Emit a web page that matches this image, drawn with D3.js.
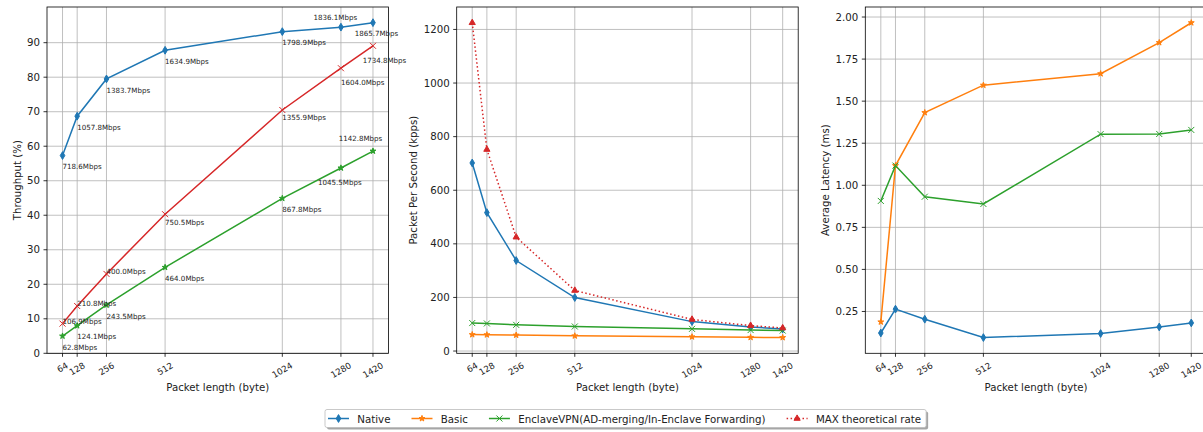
<!DOCTYPE html>
<html>
<head>
<meta charset="utf-8">
<script src="https://cdn.jsdelivr.net/npm/d3@7"></script>
<style>
  body { margin: 0; background: white; }
  svg { display: block; font-family: 'DejaVu Sans', sans-serif; }
</style>
</head>
<body>
<div id="graf"></div>
<script>
// Throughput, paquetes por segundo y latencia vs longitud de paquete
//

// Datos
longitudes = [64, 128, 256, 512, 1024, 1280, 1420]

// Panel 1: throughput (%)
thrNative  = [57.3, 68.7, 79.5, 87.8, 93.2, 94.5, 95.8]
thrEnclave = [8.6, 13.7, 23.0, 40.3, 70.5, 82.6, 89.1]
thrBasic   = [5.0, 8.0, 14.0, 24.9, 44.9, 53.7, 58.6]
etqNative  = ['718.6Mbps', '1057.8Mbps', '1383.7Mbps', '1634.9Mbps', '1798.9Mbps', '1836.1Mbps', '1865.7Mbps']
etqEnclave = ['106.9Mbps', '210.8Mbps', '400.0Mbps', '750.5Mbps', '1355.9Mbps', '1604.0Mbps', '1734.8Mbps']
etqBasic   = ['62.8Mbps', '124.1Mbps', '243.5Mbps', '464.0Mbps', '867.8Mbps', '1045.5Mbps', '1142.8Mbps']
yTicks1    = [0, 10, 20, 30, 40, 50, 60, 70, 80, 90]

// Panel 2: paquetes por segundo (kpps)
ppsNative  = [701.8, 516.5, 337.8, 199.6, 109.8, 89.6, 82.1]
ppsBasic   = [61.3, 60.6, 59.4, 56.6, 53.0, 51.0, 50.3]
ppsEnclave = [104.4, 102.9, 97.7, 91.6, 82.8, 78.3, 76.4]
ppsMax     = [1225, 752, 425, 226, 118, 95, 86]
yTicks2    = [0, 200, 400, 600, 800, 1000, 1200]

// Panel 3: latencia media (ms)
latNative  = [0.122, 0.264, 0.204, 0.095, 0.119, 0.158, 0.182]
latBasic   = [0.188, 1.117, 1.432, 1.595, 1.663, 1.848, 1.966]
latEnclave = [0.907, 1.117, 0.932, 0.889, 1.304, 1.305, 1.329]
yTicks3    = [0.25, 0.50, 0.75, 1.00, 1.25, 1.50, 1.75, 2.00]

nombres = ['Native', 'Basic', 'EnclaveVPN(AD-merging/In-Enclave Forwarding)', 'MAX theoretical rate']

// desplazamiento de las etiquetas (bytes, unidades del eje y)
despNative  = [[0, -4], [0, -4], [0, -4], [0, -4], [0, -4], [-120, 2], [-80, -4]]
despEnclave = [[0, 0], [0, 0], [0, 0], [0, -3], [0, -3], [0, -5], [-45, -5]]
despBasic   = [[0, -4], [0, -4], [0, -4], [0, -4], [0, -4], [-100, -5], [-150, 3]]

azul    = '#1f77b4'
naranja = '#ff7f0e'
verde   = '#2ca02c'
rojo    = '#d62728'

fuente = 10.2

svg = d3.select('#graf').append('svg')
        .attr('width', 1203)
        .attr('height', 432)

arriba = 7
abajo  = 353.3
anchoPanel = 341.5
izq = [47, 456.7, 865.3]

// formas de los marcadores
estrella = d3.range(10).map(k => {
  r = k % 2 == 0 ? 3.1 : 3.1 * 0.381
  a = (-90 + k * 36) * Math.PI / 180
  return [r * Math.cos(a), r * Math.sin(a)]
})
formas = {
  d: 'M0,-3.9L2.3,0L0,3.9L-2.3,0Z',
  star: 'M' + estrella.join('L') + 'Z',
  tri: 'M0,-3.6L3.1,1.8L-3.1,1.8Z',
  x: 'M-3,-3L3,3M-3,3L3,-3'
}

function marcador(sel, tipo, color) {
  if (tipo == 'x') {
    sel.append('path')
      .attr('d', formas.x)
      .attr('stroke', color)
      .attr('stroke-width', 1)
      .attr('fill', 'none')
  } else {
    sel.append('path')
      .attr('d', formas[tipo])
      .attr('fill', color)
      .attr('stroke', color)
      .attr('stroke-width', 1)
  }
}

function crearPanel(i, series, yticks, fmt, ylabel, desdeCero) {
  x0 = izq[i]
  g = svg.append('g')

  ext = d3.extent(longitudes)
  padX = (ext[1] - ext[0]) * 0.05
  x = d3.scaleLinear()
        .domain([ext[0] - padX, ext[1] + padX])
        .range([x0, x0 + anchoPanel])

  todos = series.flat()
  ymin = d3.min(todos)
  ymax = d3.max(todos)
  padY = (ymax - ymin) * 0.05
  y = d3.scaleLinear()
        .domain([desdeCero ? 0 : ymin - padY, ymax + padY])
        .range([abajo, arriba])

  // rejilla
  longitudes.forEach(l => {
    g.append('line')
      .attr('x1', x(l)).attr('x2', x(l))
      .attr('y1', arriba).attr('y2', abajo)
      .attr('stroke', '#b0b0b0')
      .attr('stroke-width', 0.8)
  })
  yticks.forEach(t => {
    g.append('line')
      .attr('x1', x0).attr('x2', x0 + anchoPanel)
      .attr('y1', y(t)).attr('y2', y(t))
      .attr('stroke', '#b0b0b0')
      .attr('stroke-width', 0.8)
  })

  // marco
  g.append('rect')
    .attr('x', x0)
    .attr('y', arriba)
    .attr('width', anchoPanel)
    .attr('height', abajo - arriba)
    .attr('fill', 'none')
    .attr('stroke', 'black')
    .attr('stroke-width', 0.8)

  // ticks eje y
  anchoMax = 0
  yticks.forEach(t => {
    g.append('line')
      .attr('x1', x0 - 3.5).attr('x2', x0)
      .attr('y1', y(t)).attr('y2', y(t))
      .attr('stroke', 'black')
      .attr('stroke-width', 0.8)
    tt = g.append('text')
      .attr('x', x0 - 7)
      .attr('y', y(t))
      .attr('text-anchor', 'end')
      .attr('dominant-baseline', 'central')
      .attr('font-size', fuente + 'px')
      .attr('fill', '#222')
      .text(fmt(t))
    anchoMax = Math.max(anchoMax, tt.node().getComputedTextLength())
  })

  // ticks eje x (rotados 30 grados)
  longitudes.forEach(l => {
    g.append('line')
      .attr('x1', x(l)).attr('x2', x(l))
      .attr('y1', abajo).attr('y2', abajo + 3.5)
      .attr('stroke', 'black')
      .attr('stroke-width', 0.8)
    xt = g.append('text')
      .attr('text-anchor', 'middle')
      .attr('dominant-baseline', 'central')
      .attr('font-size', '8.6px')
      .attr('fill', '#222')
      .text(l)
    w = xt.node().getComputedTextLength()
    h = 8.6 * 1.16
    alto = w * 0.5 + h * 0.866
    xt.attr('transform', `translate(${x(l)}, ${abajo + 7 + alto / 2}) rotate(-30)`)
  })

  g.append('text')
    .attr('x', x0 + anchoPanel / 2)
    .attr('y', abajo + 34)
    .attr('text-anchor', 'middle')
    .attr('dominant-baseline', 'central')
    .attr('font-size', fuente + 'px')
    .attr('fill', '#222')
    .text('Packet length (byte)')

  g.append('text')
    .attr('transform', `translate(${x0 - 7 - anchoMax - 4 - 5.8}, ${(arriba + abajo) / 2}) rotate(-90)`)
    .attr('text-anchor', 'middle')
    .attr('dominant-baseline', 'central')
    .attr('font-size', fuente + 'px')
    .attr('fill', '#222')
    .text(ylabel)

  return {g: g, x: x, y: y}
}

function serie(p, valores, color, tipo, dash) {
  datos = longitudes.map((l, i) => ({l: l, v: valores[i]}))
  linea = d3.line().x(d => p.x(d.l)).y(d => p.y(d.v))
  p.g.append('path')
    .datum(datos)
    .attr('d', linea)
    .attr('fill', 'none')
    .attr('stroke', color)
    .attr('stroke-width', 1.5)
    .attr('stroke-dasharray', dash)
  p.g.selectAll(null)
    .data(datos)
    .enter()
    .append('g')
      .attr('transform', d => `translate(${p.x(d.l)}, ${p.y(d.v)})`)
      .each(function() { marcador(d3.select(this), tipo, color) })
}

function etiquetas(p, valores, textos, desp) {
  longitudes.forEach((l, i) => {
    p.g.append('text')
      .attr('x', p.x(l + desp[i][0]))
      .attr('y', p.y(valores[i] + desp[i][1]))
      .attr('font-size', '7.1px')
      .attr('fill', '#262626')
      .text(textos[i])
  })
}

// Panel 1
p1 = crearPanel(0, [thrNative, thrEnclave, thrBasic], yTicks1, d3.format('d'), 'Throughput (%)', true)
serie(p1, thrNative, azul, 'd')
serie(p1, thrEnclave, rojo, 'x')
serie(p1, thrBasic, verde, 'star')

// Panel 2
p2 = crearPanel(1, [ppsNative, ppsBasic, ppsEnclave, ppsMax], yTicks2, d3.format('d'), 'Packet Per Second (kpps)', false)
serie(p2, ppsNative, azul, 'd')
serie(p2, ppsBasic, naranja, 'star')
serie(p2, ppsEnclave, verde, 'x')
serie(p2, ppsMax, rojo, 'tri', '1.5,2.475')

// Panel 3
p3 = crearPanel(2, [latNative, latBasic, latEnclave], yTicks3, d3.format('.2f'), 'Average Latency (ms)', false)
serie(p3, latNative, azul, 'd')
serie(p3, latBasic, naranja, 'star')
serie(p3, latEnclave, verde, 'x')

// etiquetas del panel 1 encima de todo
etiquetas(p1, thrNative, etqNative, despNative)
etiquetas(p1, thrEnclave, etqEnclave, despEnclave)
etiquetas(p1, thrBasic, etqBasic, despBasic)

// Leyenda
ley = svg.append('g')
sombra = ley.append('rect')
caja = ley.append('rect')
estilos = [[azul, 'd', null], [naranja, 'star', null], [verde, 'x', null], [rojo, 'tri', '1.5,2.475']]
cx = 328
cy = 418.5
nombres.forEach((n, i) => {
  ley.append('line')
    .attr('x1', cx).attr('x2', cx + 21)
    .attr('y1', cy).attr('y2', cy)
    .attr('stroke', estilos[i][0])
    .attr('stroke-width', 1.5)
    .attr('stroke-dasharray', estilos[i][2])
  m = ley.append('g').attr('transform', `translate(${cx + 10.5}, ${cy})`)
  marcador(m, estilos[i][1], estilos[i][0])
  t = ley.append('text')
    .attr('x', cx + 29.3)
    .attr('y', cy)
    .attr('dominant-baseline', 'central')
    .attr('font-size', '10.25px')
    .attr('fill', '#222')
    .text(n)
  cx = cx + 29.3 + t.node().getComputedTextLength() + 21
})
finLey = cx - 21 + 5
sombra.attr('x', 327).attr('y', 411.5)
  .attr('width', finLey - 325).attr('height', 18)
  .attr('rx', 2)
  .attr('fill', 'black')
  .attr('opacity', 0.35)
caja.attr('x', 325).attr('y', 409.5)
  .attr('width', finLey - 325).attr('height', 18)
  .attr('rx', 2)
  .attr('fill', 'white')
  .attr('stroke', '#bbb')
  .attr('stroke-width', 0.8)
</script>
</body>
</html>
